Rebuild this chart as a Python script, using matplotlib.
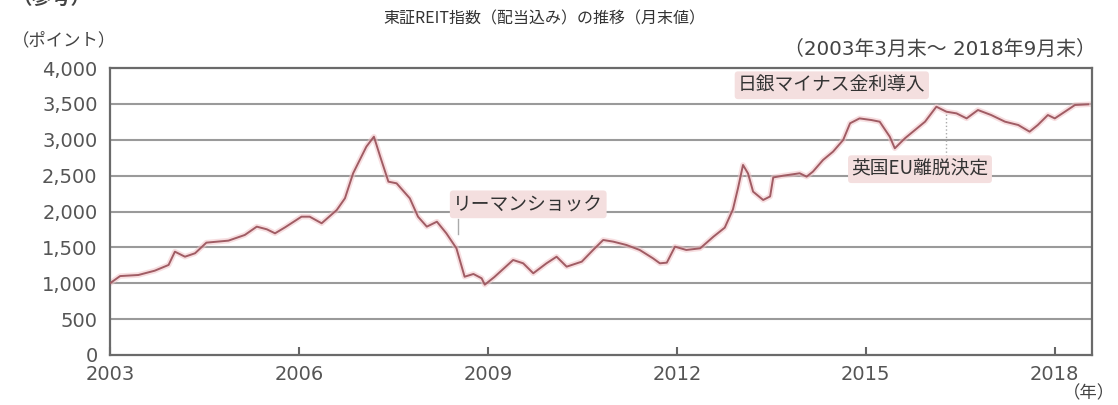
import matplotlib.pyplot as plt

plt.rcParams['font.family'] = ['DejaVu Sans', 'Noto Sans CJK JP']

# 月末値 (年は小数で読み取り)
years = [2003.00, 2003.16, 2003.45, 2003.71, 2003.93, 2004.03, 2004.19, 2004.35,
         2004.53, 2004.88, 2005.14, 2005.33, 2005.49, 2005.62, 2005.78, 2006.04,
         2006.17, 2006.36, 2006.60, 2006.73, 2006.86, 2007.07, 2007.19, 2007.29,
         2007.42, 2007.55, 2007.76, 2007.89, 2008.03, 2008.19, 2008.34, 2008.50,
         2008.63, 2008.77, 2008.90, 2008.95, 2009.10, 2009.40, 2009.56, 2009.72,
         2009.93, 2010.09, 2010.25, 2010.49, 2010.67, 2010.83, 2010.99, 2011.20,
         2011.41, 2011.62, 2011.73, 2011.84, 2011.97, 2012.15, 2012.37, 2012.58,
         2012.76, 2012.89, 2012.97, 2013.05, 2013.13, 2013.21, 2013.37, 2013.48,
         2013.53, 2013.69, 2013.85, 2013.95, 2014.06, 2014.16, 2014.32, 2014.48,
         2014.64, 2014.75, 2014.90, 2015.09, 2015.22, 2015.38, 2015.46, 2015.62,
         2015.78, 2015.94, 2016.12, 2016.28, 2016.44, 2016.60, 2016.78, 2016.99,
         2017.21, 2017.42, 2017.60, 2017.73, 2017.89, 2018.00, 2018.16, 2018.32,
         2018.53]
values = [1000, 1100, 1115, 1175, 1255, 1440, 1370, 1418,
          1566, 1594, 1673, 1789, 1752, 1696, 1780, 1928,
          1928, 1836, 2021, 2184, 2533, 2904, 3043, 2765,
          2416, 2393, 2184, 1928, 1789, 1858, 1696, 1487,
          1091, 1129, 1069, 980, 1085, 1324, 1278, 1139,
          1278, 1370, 1231, 1301, 1464, 1603, 1580, 1533,
          1464, 1348, 1278, 1287, 1510, 1464, 1487, 1649,
          1775, 2030, 2324, 2649, 2530, 2277, 2161, 2210,
          2475, 2500, 2520, 2533, 2486, 2556, 2718, 2835,
          2997, 3230, 3298, 3275, 3252, 3043, 2881, 3020,
          3136, 3252, 3461, 3391, 3368, 3298, 3415, 3345,
          3252, 3206, 3113, 3206, 3345, 3298, 3391, 3485,
          3494]

xticks = [2003, 2006, 2009, 2012, 2015, 2018]
yticks = [0, 500, 1000, 1500, 2000, 2500, 3000, 3500, 4000]
ytick_labels = ['0', '500', '1,000', '1,500', '2,000', '2,500', '3,000', '3,500', '4,000']

fig = plt.figure(figsize=(11.18, 4.05), dpi=100)
ax = fig.add_axes([0.0984, 0.1235, 0.8783, 0.7085])

for y in yticks[1:-1]:
    ax.axhline(y, color='#9a9a9a', lw=1.5, zorder=1)

# pink halo + main line
ax.plot(years, values, color='#f2c4c8', lw=4, alpha=0.55, zorder=2, solid_joinstyle='round')
ax.plot(years, values, color='#a05c64', lw=1.4, zorder=3, solid_joinstyle='round')

ax.set_xlim(2003.0, 2018.59)
ax.set_ylim(0, 4000)
ax.set_xticks(xticks)
ax.set_xticklabels([str(x) for x in xticks])
ax.set_yticks(yticks)
ax.set_yticklabels(ytick_labels)
ax.tick_params(axis='x', direction='in', length=6, width=1.5, color='#666666',
               labelsize=14, labelcolor='#555555', pad=7)
ax.tick_params(axis='y', length=0, labelsize=14, labelcolor='#555555', pad=9)
for s in ax.spines.values():
    s.set_color('#6a6a6a')
    s.set_linewidth(1.6)

box = dict(boxstyle='round,pad=0.18', facecolor='#f4dfdf', edgecolor='none')
txt_kw = dict(fontsize=13.5, color='#333333', ha='center', va='center', bbox=box, zorder=5,
              family=['Noto Sans CJK JP', 'DejaVu Sans'])

ax.text(2009.64, 2100, 'リーマンショック', **txt_kw)
ax.plot([2008.52, 2008.52], [1900, 1680], color='#aaaaaa', lw=1, zorder=4)

ax.text(2014.46, 3760, '日銀マイナス金利導入', **txt_kw)

ax.text(2015.86, 2590, '英国EU離脱決定', **txt_kw)
ax.plot([2016.27, 2016.27], [2770, 3370], color='#aaaaaa', lw=1, ls=':', zorder=4)

fig.text(0.343, 0.953, '東証REIT指数（配当込み）の推移（月末値）', fontsize=11.5,
         color='#333333', ha='left', va='center', family=['Noto Sans CJK JP', 'DejaVu Sans'])
fig.text(0.98, 0.877, '（2003年3月末～ 2018年9月末）', fontsize=14.3,
         color='#444444', ha='right', va='center')
fig.text(0.011, 0.9, '（ポイント）', fontsize=12.5, color='#444444', ha='left', va='center',
         family=['Noto Sans CJK JP', 'DejaVu Sans'])
fig.text(0.011, 1.005, '（参考）', fontsize=14, color='#444444', ha='left', va='center',
         fontweight='bold', family=['Noto Sans CJK JP', 'DejaVu Sans'])
fig.text(0.997, 0.03, '（年）', fontsize=12.5, color='#444444', ha='right', va='center',
         family=['Noto Sans CJK JP', 'DejaVu Sans'])

fig.savefig('out.png', dpi=100)
